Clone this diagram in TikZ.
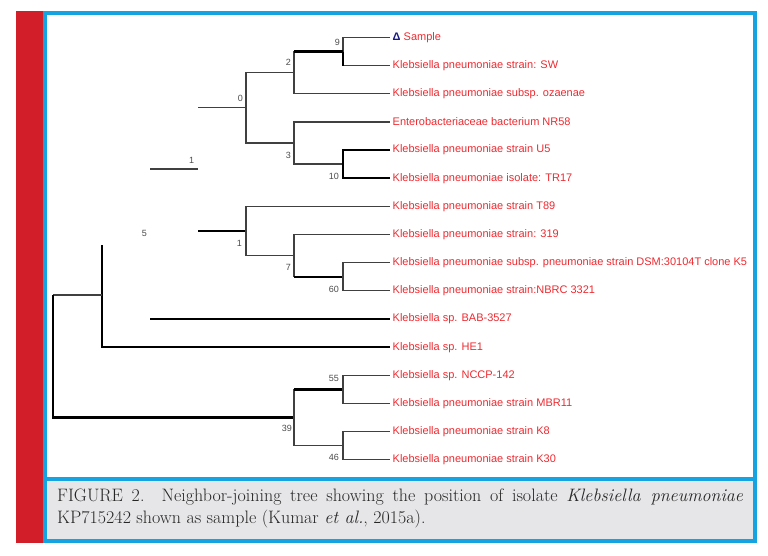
\documentclass[tikz,border=0pt]{standalone}
\usepackage{fontspec}
\newfontfamily\treefont{Liberation Sans}
\definecolor{barred}{RGB}{210,30,40}
\definecolor{frameblue}{RGB}{22,163,226}
\definecolor{capgray}{RGB}{230,230,232}
\definecolor{taxred}{RGB}{236,42,48}
\definecolor{samplenavy}{RGB}{25,25,135}
\tikzset{
	br/.style={line width=1.1pt,black!75},
	tbr/.style={line width=2.3pt,black},
	taxon/.style={anchor=west,inner sep=2.5pt,text=taxred,font=\treefont\fontsize{11}{12}\selectfont},
	boot/.style={inner sep=0pt,text=black!70,font=\treefont\fontsize{9}{10}\selectfont},
}
\begin{document}
\begin{tikzpicture}[x=1pt,y=-1pt]
			\useasboundingbox (0,0) rectangle (768,555);
			% frame and caption box
			\fill[barred] (16,11) rectangle (43,543);
			\fill[capgray] (45,479) rectangle (755,541);
			\draw[frameblue,line width=4pt] (45,13) rectangle (755,541);
			\draw[frameblue,line width=4pt] (45,479) -- (755,479);
			% leaves
			\foreach \n/\t [count=\k from 0] in {
				sample/{{\bfseries\color{samplenavy}Δ}\ Sample},
				sw/Klebsiella pneumoniae strain: SW,
				ozaenae/Klebsiella pneumoniae subsp. ozaenae,
				nr58/Enterobacteriaceae bacterium NR58,
				u5/Klebsiella pneumoniae strain U5,
				tr17/Klebsiella pneumoniae isolate: TR17,
				t89/Klebsiella pneumoniae strain T89,
				s319/Klebsiella pneumoniae strain: 319,
				dsm/Klebsiella pneumoniae subsp. pneumoniae strain DSM:30104T clone K5,
				nbrc/Klebsiella pneumoniae strain:NBRC 3321,
				bab/Klebsiella sp. BAB-3527,
				he1/Klebsiella sp. HE1,
				nccp/Klebsiella sp. NCCP-142,
				mbr11/Klebsiella pneumoniae strain MBR11,
				k8/Klebsiella pneumoniae strain K8,
				k30/Klebsiella pneumoniae strain K30}
				\node[taxon] (\n) at (390,{37.5+28.15*\k}) {\t};
			% inner nodes
			\coordinate (n9) at (343,51.6);
			\coordinate (n2) at (294,72.7);
			\coordinate (n0) at (246,107.9);
			\coordinate (r0) at (198,107.9);
			\coordinate (n3) at (294,143);
			\coordinate (n10) at (343,164);
			\coordinate (r1) at (198,231);
			\coordinate (n1) at (246,231);
			\coordinate (n7) at (294,255.7);
			\coordinate (n60) at (343,276.8);
			\coordinate (r5) at (150,319);
			\coordinate (n5) at (102,295);
			\coordinate (n5top) at (102,245);
			\coordinate (root) at (53,295);
			\coordinate (n39) at (294,417.5);
			\coordinate (n55) at (343,389.4);
			\coordinate (n46) at (343,445.7);
			\coordinate (s0) at (150,169);
			\coordinate (s1) at (198,169);
			% upper clade
			\draw[br] (n9) |- (sample) (n9) |- (sw);
			\draw[tbr] (n9) -- (n9|-sw);
			\draw[br] (n2) |- (n9) (n2) |- (ozaenae);
			\draw[tbr] (n2|-n9) -- (n9);
			\draw[br] (r0) -- (n0) (n0) |- (n2) (n0) |- (n3);
			\draw[br] (n3) |- (nr58) (n3) |- (n10);
			\draw[tbr] (n10) |- (u5) (n10) |- (tr17);
			% lower clade
			\draw[tbr] (r1) -- (n1);
			\draw[br] (n1) |- (t89) (n1) |- (n7);
			\draw[br] (n7) |- (s319) (n7) |- (n60);
			\draw[tbr] (n7|-n60) -- (n60);
			\draw[br] (n60) |- (dsm) (n60) |- (nbrc);
			\draw[tbr] (bab-|r5) -- (bab);
			\draw[tbr] (n5top) |- (he1);
			\draw[br] (root) -- (n5);
			\draw[tbr] (root) |- (n39);
			\draw[br] (n39) |- (n55) (n39) |- (n46);
			\draw[tbr] (n39|-n55) -- (n55);
			\draw[br] (n55) |- (nccp) (n55) |- (mbr11);
			\draw[br] (n46) |- (k8) (n46) |- (k30);
			% scale bar
			\draw[br] (s0) -- (s1);
			\node[boot] (sl) at (191.5,160) {1};
			% bootstrap values
			\node[boot,anchor=east] (b9) at (340,42) {9};
			\node[boot,anchor=east] (b2) at (291,62) {2};
			\node[boot,anchor=east] (b0) at (243,98) {0};
			\node[boot,anchor=east] (b3) at (291,155) {3};
			\node[boot,anchor=east] (b10) at (339,176) {10};
			\node[boot] (b5) at (144.5,233) {5};
			\node[boot,anchor=east] (b1) at (242,243) {1};
			\node[boot,anchor=east] (b7) at (291,267) {7};
			\node[boot,anchor=east] (b60) at (339,289) {60};
			\node[boot,anchor=east] (b55) at (339,378) {55};
			\node[boot,anchor=east] (b39) at (292,428) {39};
			\node[boot,anchor=east] (b46) at (339,457) {46};
			% caption
			\node[anchor=north west,text width=686pt,align=justify,inner sep=0pt,text=black!85,
				font=\fontsize{18}{22}\selectfont] (cap) at (57,489)
				{FIGURE 2. Neighbor-joining tree showing the position of isolate \textit{Klebsiella pneumoniae}\linebreak
				KP715242 shown as sample (Kumar \textit{et al.}, 2015a).};
\end{tikzpicture}
\end{document}
